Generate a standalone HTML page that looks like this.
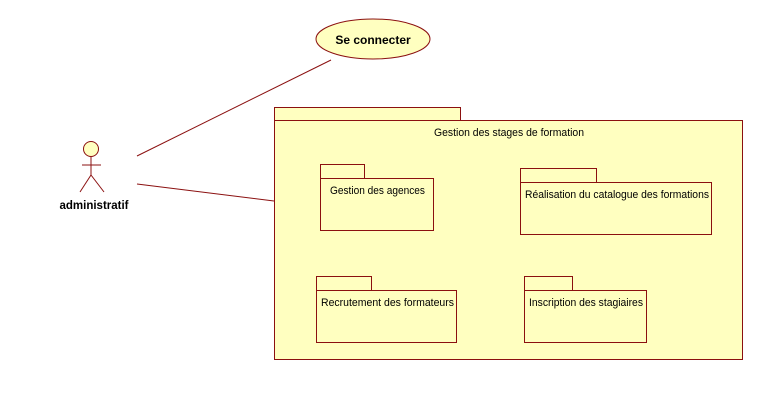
<!DOCTYPE html>
<html><head><meta charset="utf-8"><style>
html,body{margin:0;padding:0;background:#fff;width:763px;height:408px;overflow:hidden}
svg text{font-family:"Liberation Sans","DejaVu Sans",sans-serif;fill:#000}
</style></head><body>
<svg width="763" height="408" xmlns="http://www.w3.org/2000/svg">
<g stroke="#8b1010" stroke-width="1" fill="#ffffc0">
<line x1="137" y1="156" x2="331" y2="60"/>
<line x1="137" y1="184" x2="274" y2="201"/>
<ellipse cx="373" cy="39" rx="57" ry="20"/>
<rect x="274.5" y="107.5" width="186" height="13"/>
<rect x="274.5" y="120.5" width="468" height="239"/>
<rect x="320.5" y="164.5" width="44" height="14"/>
<rect x="320.5" y="178.5" width="113" height="52"/>
<rect x="520.5" y="168.5" width="76" height="14"/>
<rect x="520.5" y="182.5" width="191" height="52"/>
<rect x="316.5" y="276.5" width="55" height="14"/>
<rect x="316.5" y="290.5" width="140" height="52"/>
<rect x="524.5" y="276.5" width="48" height="14"/>
<rect x="524.5" y="290.5" width="122" height="52"/>
<circle cx="91" cy="149" r="7.5"/>
<line x1="91" y1="157" x2="91" y2="175"/>
<line x1="82" y1="165" x2="101" y2="165"/>
<line x1="91" y1="175" x2="80" y2="192"/>
<line x1="91" y1="175" x2="104" y2="192"/>
</g>
<text x="373" y="44" font-size="12" font-weight="bold" text-anchor="middle">Se connecter</text>
<text x="94" y="209" font-size="11.5" font-weight="bold" text-anchor="middle">administratif</text>
<text x="434" y="136" font-size="11" textLength="150" lengthAdjust="spacingAndGlyphs">Gestion des stages de formation</text>
<text x="330" y="194" font-size="11" textLength="95" lengthAdjust="spacingAndGlyphs">Gestion des agences</text>
<text x="525" y="198" font-size="11" textLength="184" lengthAdjust="spacingAndGlyphs">Réalisation du catalogue des formations</text>
<text x="321" y="306" font-size="11" textLength="133" lengthAdjust="spacingAndGlyphs">Recrutement des formateurs</text>
<text x="529" y="306" font-size="11" textLength="114" lengthAdjust="spacingAndGlyphs">Inscription des stagiaires</text>
</svg>
</body></html>
